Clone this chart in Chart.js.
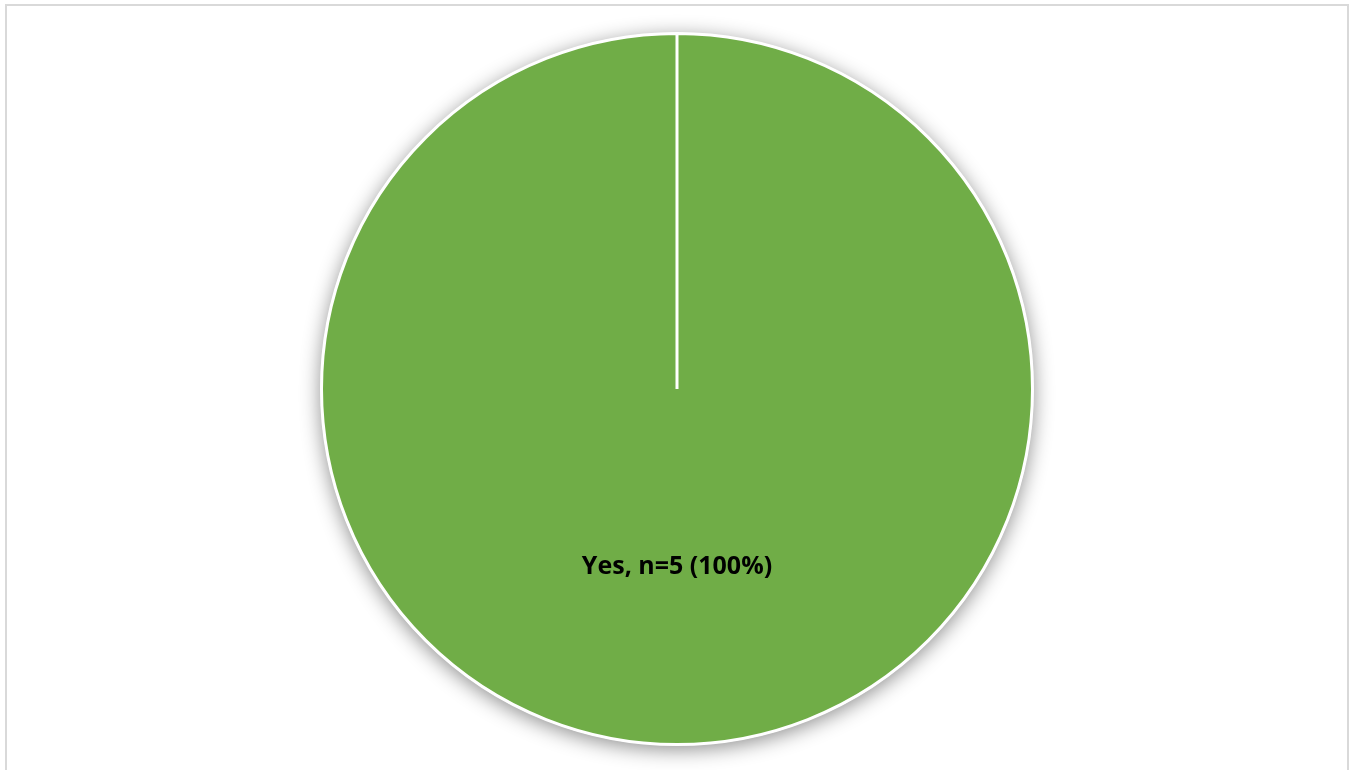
<!DOCTYPE html>
<html lang="en">
<head>
    <meta charset="UTF-8">
    <title>Pie chart</title>
    <script src="https://cdn.jsdelivr.net/npm/chart.js"></script>
    <style>
        html, body { margin: 0; padding: 0; background: #fff; overflow: hidden; }
        .frame { position: absolute; left: 5px; top: 4px; width: 1340px; height: 790px; border: 2px solid #d9d9d9; background: #fff; }
        .frame canvas { display: block; }
    </style>
</head>
<body>
    <div class="frame">
        <canvas id="pieChart" width="1340" height="772"></canvas>
    </div>

    <script>
        const labels = ['Yes'];
        const counts = [5];
        const percents = [100];
        const colors = ['#70AD47'];

        // soft shadow under the pie, like the office chart
        const pieShadow = {
            id: 'pieShadow',
            beforeDatasetsDraw(chart) {
                const arc = chart.getDatasetMeta(0).data[0];
                if (!arc) return;
                const ctx = chart.ctx;
                ctx.save();
                ctx.shadowColor = 'rgba(0,0,0,0.45)';
                ctx.shadowBlur = 20;
                ctx.shadowOffsetY = 4;
                ctx.fillStyle = '#fff';
                ctx.beginPath();
                ctx.arc(arc.x, arc.y, arc.outerRadius + 1, 0, Math.PI * 2);
                ctx.fill();
                ctx.restore();
            }
        };

        const sliceLabels = {
            id: 'sliceLabels',
            afterDatasetsDraw(chart) {
                const ctx = chart.ctx;
                chart.getDatasetMeta(0).data.forEach((arc, i) => {
                    ctx.save();
                    ctx.font = 'bold 25px "Open Sans", sans-serif';
                    ctx.fillStyle = '#000';
                    ctx.textAlign = 'center';
                    ctx.textBaseline = 'middle';
                    const text = labels[i] + ', n=' + counts[i] + ' (' + percents[i] + '%)';
                    ctx.fillText(text, arc.x, arc.y + arc.outerRadius * 0.5);
                    ctx.restore();
                });
            }
        };

        new Chart(document.getElementById('pieChart'), {
            type: 'pie',
            data: {
                labels: labels,
                datasets: [{
                    data: counts,
                    backgroundColor: colors,
                    borderColor: '#ffffff',
                    borderWidth: 3
                }]
            },
            options: {
                responsive: false,
                animation: false,
                layout: { padding: { top: 26, bottom: 32 } },
                plugins: {
                    legend: { display: false },
                    tooltip: { enabled: false }
                }
            },
            plugins: [pieShadow, sliceLabels]
        });
    </script>
</body>
</html>
